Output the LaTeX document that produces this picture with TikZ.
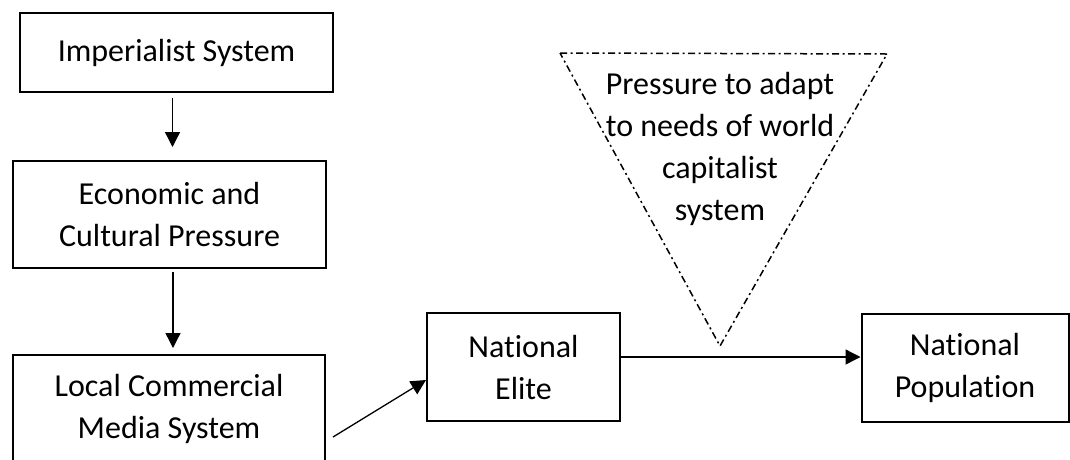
\documentclass[tikz,border=0pt]{standalone}
\usepackage{fontspec}
\setmainfont[RawFeature=-liga]{Carlito}
\usetikzlibrary{arrows.meta}
\begin{document}
\begin{tikzpicture}[x=1pt,y=-1pt,
  box/.style={draw,line width=2pt,minimum width=#1,align=center,inner sep=0pt,
    font=\fontsize{32}{42}\selectfont},
  flow/.style={line width=1.3pt,-{Triangle[length=15pt,width=15pt]}},
  dashdot/.style={line width=1.5pt,dash pattern=on 7pt off 3.5pt on 2pt off 3.5pt}]
\useasboundingbox (0,0) rectangle (1070,459);
\clip (0,0) rectangle (1070,459);
% left column
\node[box=313pt,minimum height=79pt] (imp) at (176.5,52.5) {Imperialist System};
\node[box=313pt,minimum height=107pt] (ecp) at (169.5,214.5) {Economic and\\Cultural Pressure};
\node[box=312pt,minimum height=108pt] (lcm) at (169,409) {Local Commercial\\Media System};
% right row
\node[box=193pt,minimum height=108pt] (elite) at (523.5,367) {National\\Elite};
\node[box=207pt,minimum height=108pt] (pop) at (965,368) {National\\Population};
% pressure triangle
\coordinate (tl) at (560,53);
\coordinate (tr) at (887,54);
\coordinate (tb) at (720,346);
\draw[dashdot] (tl) -- (tr) -- (tb) -- cycle;
\node[align=center,inner sep=0pt,font=\fontsize{32}{42}\selectfont] (press) at (720,149)
  {Pressure to adapt\\to needs of world\\capitalist\\system};
% connectors
\draw[flow,shorten <=5pt,shorten >=13pt] ([xshift=-4pt]imp.south) -- ([xshift=-4pt]imp.south |- ecp.north);
\draw[flow,shorten <=3pt,shorten >=6pt] ([xshift=3.5pt]ecp.south) -- ([xshift=3.5pt]ecp.south |- lcm.north);
\coordinate (lcmout) at (333,437);
\draw[flow] (lcmout) -- ([yshift=-13pt]elite.west);
\draw[flow] ([yshift=10pt]elite.east) -- ([yshift=11pt]pop.west);
\end{tikzpicture}
\end{document}
